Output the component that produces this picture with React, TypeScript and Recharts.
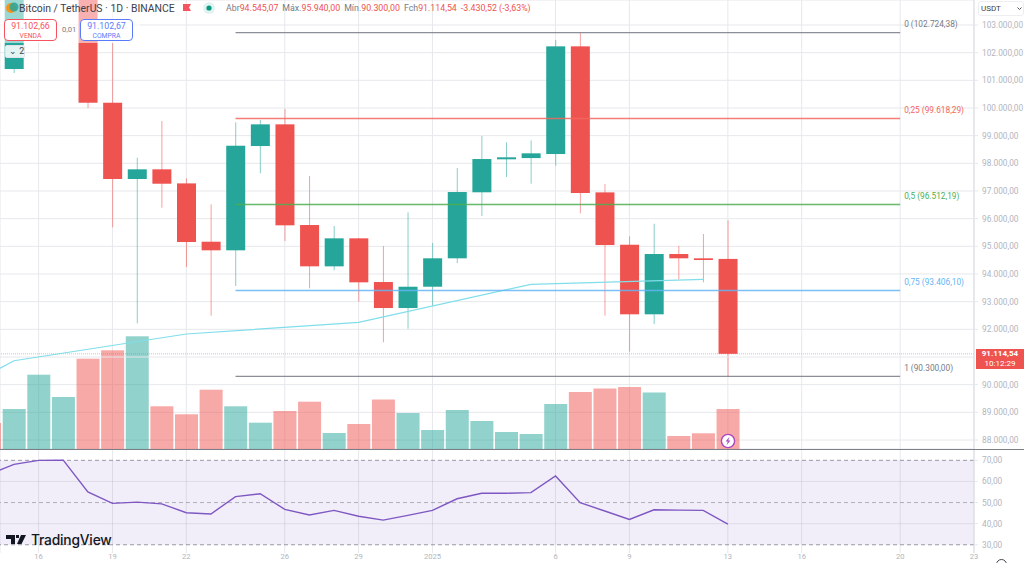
import React from "react";
import { ComposedChart, Bar, Line, XAxis, YAxis, CartesianGrid, ReferenceLine, ReferenceArea } from "recharts";

// Day index (0 = first full candle on screen)
const days = [-1, 0, 1, 2, 3, 4, 5, 6, 7, 8, 9, 10, 11, 12, 13, 14, 15, 16, 17, 18, 19, 20, 21, 22, 23, 24, 25, 26, 27, 28, 29];
const opens = [101900, 101408, 104463, 106058, 106133, 100190, 97433, 97783, 97275, 95167, 94856, 98625, 99409, 95770, 94277, 95289, 93710, 92770, 93540, 94567, 96953, 98145, 98190, 98336, 102228, 96950, 95058, 92543, 94722, 94567, 94545.07];
const closes = [101400, 104463, 106058, 106133, 100190, 97433, 97783, 97263, 95156, 94856, 98636, 99409, 95759, 94277, 95289, 93699, 92770, 93540, 94567, 96963, 98155, 98217, 98361, 102228, 96927, 95047, 92543, 94722, 94567, 94505, 91114.54];
const highs = [102000, 105250, 107793, 108300, 106500, 102348, 98202, 99529, 97458, 96518, 99482, 99565, 99962, 97541, 95734, 95300, 95011, 96229, 95120, 97830, 98987, 98759, 98831, 102456, 102724, 97252, 95362, 95817, 95022, 95445, 95940];
const lows = [101200, 101264, 104100, 105300, 100000, 95687, 92218, 96395, 94252, 92492, 93566, 97639, 95192, 93482, 94133, 92998, 91531, 92022, 92854, 94397, 96095, 97505, 97263, 97913, 96193, 92492, 91191, 92192, 93808, 93699, 90300];
const volumes = [5200, 8000, 14860, 10400, 18060, 19740, 22540, 8540, 6940, 11860, 8540, 5260, 7600, 9460, 3200, 5000, 9900, 7200, 3800, 7800, 5600, 3400, 3000, 9000, 11400, 12100, 12400, 11300, 2600, 3140, 8000];
const rsiValues = [63.4, 68.1, 70, 70.1, 55, 49.6, 50.2, 49.4, 45.2, 44.6, 52.8, 54.2, 46.8, 44.1, 46.3, 43.5, 41.7, 43.9, 46.3, 51.8, 54.4, 54.4, 54.7, 62.6, 49.9, 46, 42, 46.6, 46.4, 46.3, 39.8];

// Weekly moving average
const maDays = [-7, 0, 7, 14, 21, 28];
const maValues = [87530, 90866, 91831, 92254, 93627, 93808];

// Fibonacci retracement
const fibRatios = ["0", "0,25", "0,5", "0,75", "1"];
const fibPrices = [102724.38, 99618.29, 96512.19, 93406.1, 90300];
const fibColors = ["#787b86", "#f2665f", "#4caf50", "#64b5f6", "#787b86"];
const fibTexts = ["102.724,38", "99.618,29", "96.512,19", "93.406,10", "90.300,00"];
const fibStart = 9;
const fibEnd = 36;

// The 91.000,00 tick sits behind the last-price tag, so only its grid line is drawn
const priceTicks = [88000, 89000, 90000, 92000, 93000, 94000, 95000, 96000, 97000, 98000, 99000, 100000, 101000, 102000, 103000];
const hiddenPriceTick = 91000;
const rsiTicks = [30, 40, 50, 60, 70];
const dateTicks = [1, 4, 7, 11, 14, 17, 22, 25, 29, 32, 36, 39];
const dateLabels = ["16", "19", "22", "26", "29", "2025", "6", "9", "13", "16", "20", "23"];
const lastClose = 91114.54;

const rows = days.map((d, i) => ({
  day: d,
  open: opens[i],
  close: closes[i],
  high: highs[i],
  low: lows[i],
  volume: volumes[i],
  rsi: rsiValues[i],
}));
const maRows = maDays.map((d, i) => ({ day: d, ma: maValues[i] }));

const UP = "#26a69a";
const DOWN = "#ef5350";
const GRID = "#e7e8ec";
const AXIS_TEXT = "#b2b5be";
const FONT = "Roboto, sans-serif";
const DOMAIN_X: [number, number] = [-0.5686, 39];
const fmt = (v: number) => v.toLocaleString("pt-BR", { minimumFractionDigits: 2, maximumFractionDigits: 2 });

function Candle(props: any) {
  const { x, y, width, height, payload } = props;
  if (!payload) return null;
  const ratio = height / (payload.high - payload.low);
  const cx = x + width / 2;
  const py = (p: number) => y + (payload.high - p) * ratio;
  const top = py(Math.max(payload.open, payload.close));
  const bottom = py(Math.min(payload.open, payload.close));
  const c = payload.close >= payload.open ? UP : DOWN;
  return (
    <g>
      <line x1={cx} x2={cx} y1={y} y2={y + height} stroke={c} strokeOpacity={0.55} strokeWidth={1} />
      <rect x={x} y={top} width={width} height={Math.max(bottom - top, 1.4)} fill={c} />
    </g>
  );
}

function VolumeBar(props: any) {
  const { x, y, width, height, payload } = props;
  const c = payload.close >= payload.open ? UP : DOWN;
  return <rect x={x} y={y} width={width} height={height} fill={c} fillOpacity={0.5} />;
}

function FibLabel({ text, color, viewBox }: any) {
  const vx = viewBox.x + Math.abs(viewBox.width || 0);
  return (
    <text x={vx + 4} y={viewBox.y - 5.5} fontSize={8.3} fill={color} fontFamily={FONT}>
      {text}
    </text>
  );
}

const abs = (left: number, top: number, extra: React.CSSProperties = {}): React.CSSProperties => ({
  position: "absolute",
  left,
  top,
  fontFamily: FONT,
  whiteSpace: "nowrap",
  ...extra,
});

function PriceBox({ left, price, side, color }: { left: number; price: string; side: string; color: string }) {
  return (
    <div style={abs(left, 18.5, { width: 53, height: 22, boxSizing: "border-box", background: "#fff", border: `1px solid ${color}`, borderRadius: 4, textAlign: "center", color, lineHeight: 1 })}>
      <div style={{ fontSize: 8.8, marginTop: 2.5 }}>{price}</div>
      <div style={{ fontSize: 6.8, marginTop: 2 }}>{side}</div>
    </div>
  );
}

export default function App() {
  return (
    <div style={{ position: "absolute", left: 0, top: 0, width: 1024, height: 563, overflow: "hidden", background: "#fff" }}>
      <div style={{ position: "absolute", left: 0, top: 0 }}>
        <ComposedChart width={1024} height={449} data={rows} margin={{ top: 0, right: 0, bottom: 0, left: 0 }}>
          <CartesianGrid xAxisId="p" yAxisId="price" stroke={GRID} strokeWidth={1} />
          <XAxis xAxisId="p" dataKey="day" type="number" domain={DOMAIN_X} ticks={dateTicks} allowDataOverflow hide />
          <XAxis xAxisId="v" dataKey="day" type="number" domain={DOMAIN_X} ticks={dateTicks} allowDataOverflow hide />
          <YAxis
            yAxisId="price"
            orientation="right"
            width={50}
            domain={[87675, 103903]}
            ticks={priceTicks}
            interval={0}
            allowDataOverflow
            tickFormatter={fmt}
            tick={{ fontSize: 8.3, fill: AXIS_TEXT, fontFamily: FONT }}
            tickSize={4}
            tickMargin={4}
            tickLine={{ stroke: GRID }}
            axisLine={{ stroke: "#dcdde2" }}
          />
          <YAxis yAxisId="vol" hide domain={[0, 89800]} />
          <ReferenceLine xAxisId="p" yAxisId="price" y={hiddenPriceTick} stroke={GRID} />
          <Bar xAxisId="v" yAxisId="vol" dataKey="volume" barSize={23} shape={<VolumeBar />} isAnimationActive={false} />
          <ReferenceLine xAxisId="p" yAxisId="price" y={lastClose} stroke={DOWN} strokeOpacity={0.45} strokeDasharray="1 1" />
          <Line xAxisId="p" yAxisId="price" data={maRows} dataKey="ma" stroke="#80deea" strokeWidth={1.2} dot={false} isAnimationActive={false} connectNulls />
          {fibPrices.map((p, i) => (
            <ReferenceLine
              key={i}
              xAxisId="p"
              yAxisId="price"
              stroke={fibColors[i]}
              strokeOpacity={0.85}
              strokeWidth={1.4}
              segment={[{ x: fibStart, y: p }, { x: fibEnd, y: p }]}
              label={<FibLabel text={`${fibRatios[i]} (${fibTexts[i]})`} color={fibColors[i]} />}
            />
          ))}
          <Bar xAxisId="p" yAxisId="price" dataKey={(d: any) => [d.low, d.high]} barSize={19} shape={<Candle />} isAnimationActive={false} />
        </ComposedChart>
      </div>

      <div style={{ position: "absolute", left: 0, top: 449, width: 1024, height: 1.4, background: "#7c7e88" }} />

      <div style={{ position: "absolute", left: 0, top: 450 }}>
        <ComposedChart width={1024} height={113} data={rows} margin={{ top: 0, right: 0, bottom: 0, left: 0 }}>
          <CartesianGrid stroke={GRID} horizontal={false} />
          <XAxis
            dataKey="day"
            type="number"
            domain={DOMAIN_X}
            ticks={dateTicks}
            interval={0}
            allowDataOverflow
            height={10}
            tickFormatter={(v: number) => dateLabels[dateTicks.indexOf(v)]}
            tick={{ fontSize: 7.6, fill: AXIS_TEXT, fontFamily: FONT }}
            tickLine={false}
            tickSize={0}
            tickMargin={1}
            axisLine={false}
          />
          <YAxis
            orientation="right"
            width={50}
            domain={[26.1, 74.9]}
            ticks={rsiTicks}
            interval={0}
            allowDataOverflow
            tickFormatter={fmt}
            tick={{ fontSize: 8.3, fill: AXIS_TEXT, fontFamily: FONT }}
            tickSize={4}
            tickMargin={4}
            tickLine={{ stroke: GRID }}
            axisLine={{ stroke: "#dcdde2" }}
          />
          <ReferenceArea y1={30} y2={70} fill="#7e57c2" fillOpacity={0.1} stroke="none" />
          <ReferenceLine y={60} stroke="#787b86" strokeOpacity={0.15} />
          <ReferenceLine y={40} stroke="#787b86" strokeOpacity={0.15} />
          <ReferenceLine y={70} stroke="#787b86" strokeOpacity={0.75} strokeDasharray="4 3" />
          <ReferenceLine y={50} stroke="#787b86" strokeOpacity={0.55} strokeDasharray="4 3" />
          <ReferenceLine y={30} stroke="#787b86" strokeOpacity={0.75} strokeDasharray="4 3" />
          <Line dataKey="rsi" stroke="#7e57c2" strokeWidth={1.4} dot={false} isAnimationActive={false} />
        </ComposedChart>
      </div>

      {/* Header veil */}
      <div style={{ position: "absolute", left: 0, top: 0, width: 140, height: 43, background: "rgba(255,255,255,0.55)" }} />

      {/* Legend line */}
      <svg style={{ position: "absolute", left: 3, top: 2 }} width={16} height={12}>
        <circle cx={8} cy={6} r={5} fill="#f7931a" />
        <circle cx={11} cy={5} r={4.5} fill="#26a69a" opacity={0.85} />
      </svg>
      <div style={abs(19, 1, { fontSize: 10.4, color: "#3d404b", lineHeight: "15px" })}>Bitcoin / TetherUS · 1D · BINANCE</div>
      <svg style={{ position: "absolute", left: 182, top: 3 }} width={10} height={10}>
        <path d="M1 1H9L7 4.5L9 8H1Z" fill="#f7525f" />
      </svg>
      <svg style={{ position: "absolute", left: 203, top: 2 }} width={12} height={12}>
        <circle cx={6} cy={6} r={6} fill="#089981" opacity={0.12} />
        <circle cx={6} cy={6} r={2.6} fill="#089981" />
      </svg>
      <div style={abs(226, 2, { fontSize: 8.8, color: "#787b86", lineHeight: "13px" })}>
        Abr<span style={{ color: DOWN }}>94.545,07</span>
        <span style={{ marginLeft: 4 }}>Máx.</span><span style={{ color: DOWN }}>95.940,00</span>
        <span style={{ marginLeft: 4 }}>Mín.</span><span style={{ color: DOWN }}>90.300,00</span>
        <span style={{ marginLeft: 4 }}>Fch</span><span style={{ color: DOWN }}>91.114,54</span>
        <span style={{ color: DOWN, marginLeft: 4 }}>-3.430,52 (-3,63%)</span>
      </div>

      <PriceBox left={4} price="91.102,66" side="VENDA" color="#f7525f" />
      <div style={abs(62, 25, { fontSize: 7.6, color: "#787b86" })}>0,01</div>
      <PriceBox left={80} price="91.102,67" side="COMPRA" color="#5b7cfa" />
      <div style={abs(5, 45, { width: 20, height: 13, boxSizing: "border-box", background: "rgba(255,255,255,0.88)", border: "1px solid #e0e3eb", borderRadius: 2, fontSize: 9, lineHeight: "11px", color: "#434651", paddingLeft: 3 })}>
        ⌄ 2
      </div>

      {/* Currency selector */}
      <div style={abs(978, 1, { width: 46, height: 15, boxSizing: "border-box", background: "#fff", border: "1px solid #eceef2", borderRadius: 3, fontSize: 8, lineHeight: "13px", color: "#3d404b", paddingLeft: 2 })}>
        USDT
        <svg style={{ position: "absolute", left: 38, top: 5 }} width={5} height={4}>
          <path d="M0.5 0.5L2.5 2.5L4.5 0.5" fill="none" stroke="#3d404b" strokeWidth={0.9} />
        </svg>
      </div>

      {/* Last price tag */}
      <div style={abs(976, 349, { width: 48, height: 20, background: DOWN, color: "#fff", textAlign: "center", lineHeight: "10px" })}>
        <div style={{ fontSize: 8, fontWeight: 700 }}>91.114,54</div>
        <div style={{ fontSize: 8 }}>10:12:29</div>
      </div>

      {/* Flash marker */}
      <svg style={{ position: "absolute", left: 720, top: 433 }} width={16} height={16}>
        <circle cx={8} cy={8} r={6.6} fill="#fff" stroke="#ab47bc" strokeWidth={1.4} />
        <path d="M9.5 3.8L5.6 8.6H7.8L6.6 12.2L10.4 7.4H8.2Z" fill="#ab47bc" />
      </svg>

      {/* Brand */}
      <svg style={{ position: "absolute", left: 6, top: 534 }} width={22} height={12}>
        <path d="M0 1H9V10H5V5H0Z M10 1H13V4H10Z M15 1H20L15.5 10H11Z" fill="#131722" />
      </svg>
      <div style={abs(31, 531, { fontFamily: "Inter, sans-serif", fontSize: 13.8, fontWeight: 500, color: "#131722", lineHeight: "18px", letterSpacing: -0.2 })}>TradingView</div>

      {/* Settings icon */}
      <div style={{ position: "absolute", left: 996, top: 559, width: 9, height: 9, border: "1px solid #434651", borderRadius: "50%" }} />
    </div>
  );
}
